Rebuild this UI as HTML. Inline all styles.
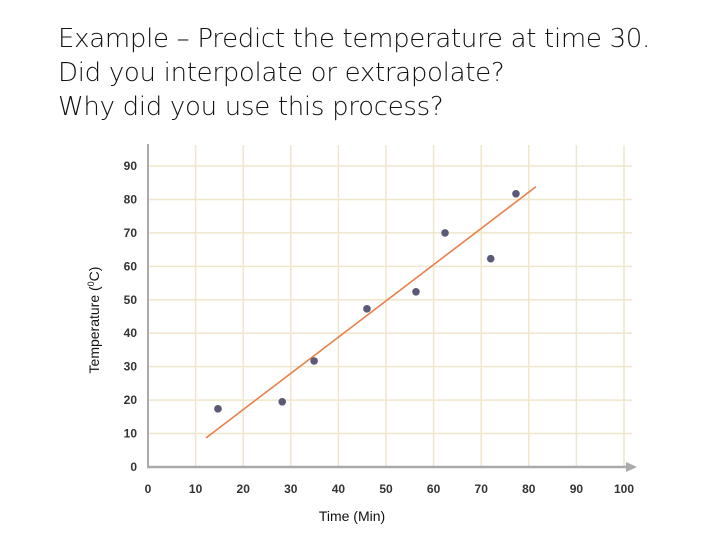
<!DOCTYPE html>
<html><head><meta charset="utf-8"><style>
body{margin:0;background:#fff;width:720px;height:540px;overflow:hidden;font-family:"Liberation Sans",sans-serif}
.t{position:absolute;left:58px;top:22px;font-size:26px;line-height:34px;color:#111;font-family:"DejaVu Sans","Liberation Sans",sans-serif;font-weight:300;letter-spacing:-0.3px}
</style></head><body>
<div class="t">Example – Predict the temperature at time 30.<br>Did you interpolate or extrapolate?<br>Why did you use this process?</div>
<svg id="c" width="720" height="540" style="position:absolute;left:0;top:0"></svg>
<script>
const xTicks=[0,10,20,30,40,50,60,70,80,90,100];
const yTicks=[0,10,20,30,40,50,60,70,80,90];
const timeVals=[14.7,28.2,34.9,46,56.3,62.4,72,77.3];
const tempVals=[17.4,19.5,31.7,47.3,52.4,70,62.3,81.7];
const fitX=[12.2,81.5];
const fitY=[8.7,83.8];
const svg=document.getElementById('c');const NS='http://www.w3.org/2000/svg';
const X=v=>148+v*4.76, Y=v=>467-v*3.344;
function el(t,a,p){const e=document.createElementNS(NS,t);for(const k in a)e.setAttribute(k,a[k]);(p||svg).appendChild(e);return e;}
xTicks.forEach(v=>{if(v>0){const l=el('line',{x1:X(v),x2:X(v),y1:145,y2:467,stroke:'#efe6cb','stroke-width':1.5});

}
const t=el('text',{x:X(v),y:493,'text-anchor':'middle','font-size':12,'font-weight':'bold',fill:'#333'});t.textContent=v;

});
yTicks.forEach(v=>{if(v>0){const l=el('line',{x1:148,x2:632,y1:Y(v),y2:Y(v),stroke:'#efe6cb','stroke-width':1.5});

}
const t=el('text',{x:137,y:Y(v)+4,'text-anchor':'end','font-size':12,'font-weight':'bold',fill:'#333'});t.textContent=v;

});
const ya=el('line',{x1:148,x2:148,y1:144,y2:468,stroke:'#aaa','stroke-width':2});


const xa=el('line',{x1:147,x2:630,y1:467,y2:467,stroke:'#aaa','stroke-width':2.5});


const ar=el('path',{d:'M626,462 L637,467 L626,472 Z',fill:'#aaa'});


const fl=el('line',{x1:X(fitX[0]),y1:Y(fitY[0]),x2:X(fitX[1]),y2:Y(fitY[1]),stroke:'#e8804a','stroke-width':1.6});


timeVals.forEach((v,i)=>{const c=el('circle',{cx:X(v),cy:Y(tempVals[i]),r:3.8,fill:'#5a5a78'});

});
const xt=el('text',{x:352,y:521,'text-anchor':'middle','font-size':14,fill:'#111'});xt.textContent='Time (Min)';


const yt=el('text',{transform:'translate(99,320) rotate(-90)','text-anchor':'middle','font-size':14,fill:'#111'});
yt.innerHTML='Temperature (<tspan dy="-5" font-size="9">0</tspan><tspan dy="5">C)</tspan>';


</script>
</body></html>
